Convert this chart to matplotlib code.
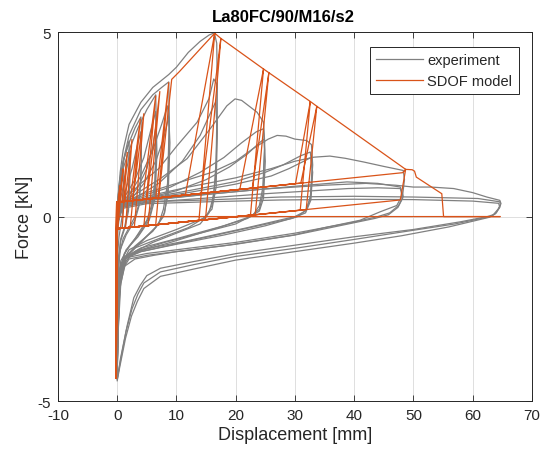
import matplotlib
matplotlib.use("Agg")
import matplotlib.pyplot as plt
import numpy as np

plt.rcParams['font.family'] = ['Liberation Sans', 'DejaVu Sans']
plt.rcParams['axes.unicode_minus'] = False

TITLE = "La80FC/90/M16/s2"
XLABEL = "Displacement [mm]"
YLABEL = "Force [kN]"
LEGEND_LABELS = ["experiment", "SDOF model"]
XTICKS = [-10, 0, 10, 20, 30, 40, 50, 60, 70]
YTICKS = [-5, 0, 5]

# ---------------- experiment: cycles (displacement mm, force kN) ----------------
exp_c01_d = [0, 0.1, 0.25, 0.5, 0.5, 0.35, 0.15, 0.02, 0]
exp_c01_f = [0, 0.4, 0.7, 0.9, 0.4, 0.0, -0.3, -0.7, -1.0]
exp_c02_d = [0, 0.15, 0.4, 0.7, 1.0, 1.05, 0.9, 0.6, 0.3, 0.08, 0]
exp_c02_f = [-0.3, 0.4, 0.9, 1.2, 1.4, 0.8, 0.1, -0.25, -0.55, -1.0, -1.5]
exp_c03_d = [0, 0.2, 0.6, 1.2, 2.0, 2.05, 1.8, 1.3, 0.6, 0.15, 0]
exp_c03_f = [-0.4, 0.4, 1.0, 1.6, 2.05, 1.1, 0.2, -0.25, -0.6, -1.2, -1.9]
exp_c04_d = [0, 0.3, 1.0, 1.8, 2.1, 2.15, 1.9, 1.3, 0.6, 0.15, 0]
exp_c04_f = [-0.3, 0.3, 0.8, 1.45, 1.75, 1.0, 0.15, -0.3, -0.65, -1.3, -2.0]
exp_c05_d = [0, 0.1, 0.4, 1.0, 2.0, 3.0, 4.0, 4.1, 4.0, 3.6, 3.0, 2.0, 1.0, 0.4, 0.1, 0]
exp_c05_f = [-0.3, 0.5, 1.0, 1.5, 2.0, 2.4, 2.7, 2.2, 1.0, 0.3, 0.0, -0.3, -0.6, -1.0, -1.8, -2.4]
exp_c06_d = [0, 0.3, 1.2, 2.5, 3.5, 4.0, 4.1, 3.7, 3.0, 1.5, 0.5, 0.1, 0]
exp_c06_f = [-0.2, 0.2, 0.6, 1.3, 2.0, 2.3, 1.5, 0.3, -0.1, -0.5, -0.9, -1.6, -2.2]
exp_c07_d = [0, 0.2, 0.8, 2.0, 3.5, 5.0, 6.5, 6.6, 6.4, 5.8, 5.0, 3.0, 1.2, 0.3, 0.05, 0]
exp_c07_f = [-0.2, 0.6, 1.2, 1.8, 2.4, 2.9, 3.3, 2.5, 1.0, 0.3, -0.1, -0.6, -1.0, -1.6, -2.3, -2.8]
exp_c08_d = [0, 0.4, 1.5, 3.0, 4.5, 5.6, 6.5, 6.6, 6.3, 5.5, 4.0, 2.0, 0.6, 0.1, 0]
exp_c08_f = [-0.2, 0.3, 0.6, 1.0, 1.6, 2.3, 2.85, 2.0, 0.6, 0.0, -0.4, -0.8, -1.2, -2.0, -2.7]
exp_c09_d = [0, 0.5, 2.0, 3.5, 5.0, 6.0, 6.6, 6.7, 6.4, 5.4, 3.5, 1.5, 0.4, 0.1, 0]
exp_c09_f = [-0.2, 0.25, 0.5, 0.8, 1.3, 1.9, 2.5, 1.7, 0.5, -0.1, -0.55, -0.9, -1.4, -2.2, -2.9]
exp_c10_d = [0, 0.3, 1.0, 2.0, 4.0, 6.0, 7.5, 8.7, 8.8, 8.5, 7.8, 7.0, 4.0, 1.5, 0.3, 0.05, 0]
exp_c10_f = [-0.2, 0.8, 1.5, 2.2, 2.9, 3.3, 3.5, 3.65, 2.6, 0.9, 0.2, -0.2, -0.7, -1.1, -1.8, -2.6, -3.1]
exp_c11_d = [0, 0.5, 2.0, 4.0, 6.0, 7.5, 8.5, 8.8, 8.6, 8.0, 6.5, 3.5, 1.2, 0.3, 0]
exp_c11_f = [-0.2, 0.3, 0.6, 1.1, 1.8, 2.5, 3.0, 2.4, 0.8, 0.1, -0.3, -0.75, -1.15, -1.9, -3.0]
exp_c12_d = [0, 0.6, 2.5, 4.5, 6.5, 7.8, 8.7, 8.9, 8.6, 7.8, 6.0, 3.0, 1.0, 0.2, 0]
exp_c12_f = [-0.2, 0.25, 0.5, 0.9, 1.5, 2.1, 2.7, 2.0, 0.6, 0.0, -0.4, -0.8, -1.2, -2.2, -3.1]
exp_c13_d = [0, 0.2, 0.5, 1.0, 2.0, 4.0, 6.0, 8.7, 10.0, 12.0, 14.0, 15.5, 16.4, 16.8, 16.9, 16.7,
             16.3, 15.5, 14.0, 10.0, 6.0, 3.0, 1.5, 0.6, 0.2, 0]
exp_c13_f = [-0.4, 0.5, 1.2, 1.8, 2.5, 3.1, 3.5, 3.85, 4.05, 4.45, 4.75, 4.92, 4.98, 4.7, 3.5, 1.5,
             0.6, 0.1, -0.2, -0.45, -0.7, -0.95, -1.2, -1.8, -3.0, -4.0]
exp_c14_d = [0, 0.5, 2.0, 4.0, 7.0, 10.0, 13.5, 15.5, 16.3, 16.8, 16.9, 16.6, 16.0, 15.0, 12.0,
             7.0, 3.0, 1.2, 0.5, 0.1, 0]
exp_c14_f = [-0.3, 0.3, 0.6, 0.9, 1.3, 1.9, 2.56, 3.2, 3.73, 3.6, 2.5, 1.0, 0.3, 0.0, -0.3,
             -0.6, -0.85, -1.1, -1.6, -2.8, -3.8]
exp_c15_d = [0, 0.6, 3.0, 7.0, 11.0, 14.0, 16.0, 16.6, 16.9, 16.7, 16.0, 14.5, 10.0, 5.0, 2.0,
             0.7, 0.2, 0]
exp_c15_f = [-0.3, 0.25, 0.5, 0.9, 1.5, 2.2, 2.9, 3.1, 2.3, 0.8, 0.2, -0.05, -0.35, -0.65, -0.9,
             -1.3, -2.4, -3.6]
exp_c16_d = [0, 0.5, 3.0, 7.3, 11.8, 15.7, 18.5, 19.9, 21.0, 23.6, 24.7, 24.9, 24.6, 24.0, 23.0,
             20.0, 14.0, 8.0, 4.0, 1.5, 0.5, 0.1, 0]
exp_c16_f = [-0.3, 0.35, 0.6, 1.03, 1.57, 2.38, 3.0, 3.19, 3.15, 2.83, 2.56, 2.0, 0.8, 0.3, 0.05,
             -0.2, -0.45, -0.7, -0.9, -1.1, -1.6, -3.0, -4.2]
exp_c17_d = [0, 0.6, 4.0, 9.0, 14.0, 18.0, 21.0, 23.5, 24.7, 24.9, 24.6, 24.0, 22.5, 18.0, 10.0,
             4.0, 1.3, 0.4, 0.1, 0]
exp_c17_f = [-0.2, 0.3, 0.55, 0.8, 1.2, 1.6, 2.0, 2.3, 2.38, 1.8, 0.6, 0.2, 0.0, -0.25, -0.6,
             -0.85, -1.1, -1.7, -3.0, -4.0]
exp_c18_d = [0, 0.7, 5.0, 10.0, 15.0, 19.0, 22.0, 24.0, 24.8, 25.0, 24.7, 24.0, 22.0, 16.0, 9.0,
             3.5, 1.2, 0.4, 0.1, 0]
exp_c18_f = [-0.2, 0.3, 0.5, 0.7, 1.0, 1.35, 1.7, 2.0, 2.1, 1.5, 0.5, 0.15, -0.05, -0.35, -0.7,
             -0.95, -1.15, -1.8, -3.1, -4.1]
exp_c19_d = [0, 0.6, 4.0, 10.0, 16.0, 20.0, 23.0, 25.5, 27.0, 28.5, 30.0, 32.0, 32.8, 33.0, 32.7,
             32.0, 30.5, 25.0, 18.0, 10.0, 4.0, 1.5, 0.5, 0.1, 0]
exp_c19_f = [-0.2, 0.35, 0.6, 0.9, 1.2, 1.5, 1.85, 2.1, 2.2, 2.18, 2.1, 2.06, 1.95, 1.4, 0.6,
             0.2, 0.0, -0.25, -0.5, -0.75, -0.95, -1.1, -1.7, -3.2, -4.3]
exp_c20_d = [0, 0.7, 5.0, 12.0, 20.0, 25.0, 28.0, 31.0, 32.6, 32.9, 32.6, 31.8, 30.0, 22.0, 12.0,
             4.0, 1.2, 0.4, 0.1, 0]
exp_c20_f = [-0.2, 0.3, 0.5, 0.7, 0.95, 1.2, 1.4, 1.65, 1.75, 1.3, 0.5, 0.15, 0.0, -0.3, -0.65,
             -0.9, -1.1, -1.8, -3.2, -4.2]
exp_c21_d = [0, 0.7, 5.0, 12.0, 20.0, 26.0, 29.0, 31.5, 32.7, 33.0, 32.7, 31.8, 29.5, 21.0, 11.0,
             4.0, 1.2, 0.4, 0.1, 0]
exp_c21_f = [-0.2, 0.3, 0.48, 0.65, 0.88, 1.1, 1.3, 1.5, 1.6, 1.2, 0.45, 0.1, -0.05, -0.35, -0.7,
             -0.95, -1.15, -1.9, -3.3, -4.3]
exp_c22_d = [0, 0.7, 5.0, 12.0, 20.0, 26.0, 30.0, 33.2, 35.9, 38.5, 41.6, 45.0, 48.3, 48.5, 48.2,
             47.2, 44.4, 41.0, 35.0, 29.8, 18.5, 10.0, 6.2, 3.0, 1.2, 0.4, 0.1, 0]
exp_c22_f = [-0.2, 0.35, 0.55, 0.8, 1.05, 1.3, 1.5, 1.61, 1.64, 1.58, 1.48, 1.36, 1.25, 1.0, 0.6,
             0.3, 0.13, -0.1, -0.3, -0.5, -0.78, -0.95, -1.05, -1.15, -1.35, -2.0, -3.4, -4.3]
exp_c23_d = [0, 1.0, 6.0, 15.0, 25.0, 32.0, 38.8, 44.0, 47.8, 48.3, 47.5, 46.0, 44.0, 40.0, 30.0,
             20.0, 10.0, 5.0, 2.0, 0.6, 0.2, 0]
exp_c23_f = [-0.2, 0.3, 0.45, 0.6, 0.75, 0.85, 0.94, 0.9, 0.8, 0.55, 0.3, 0.1, 0.0, -0.15, -0.45,
             -0.7, -0.9, -1.0, -1.1, -1.4, -2.6, -4.0]
exp_c24_d = [0, 1.0, 6.0, 15.0, 25.0, 33.0, 39.0, 44.0, 47.8, 48.2, 47.4, 45.8, 43.5, 39.0, 30.0,
             20.0, 10.0, 5.0, 2.0, 0.6, 0.2, 0]
exp_c24_f = [-0.2, 0.28, 0.4, 0.5, 0.62, 0.7, 0.76, 0.78, 0.76, 0.5, 0.25, 0.05, -0.05, -0.2,
             -0.5, -0.75, -0.95, -1.05, -1.15, -1.5, -2.8, -4.1]
exp_c25_d = [0, 0.8, 5.0, 15.0, 25.0, 35.0, 42.0, 47.0, 50.0, 53.0, 56.8, 60.0, 62.4, 64.6, 64.8,
             64.3, 63.5, 62.5, 58.0, 50.0, 39.9, 29.8, 20.2, 12.9, 7.3, 5.0, 3.9, 2.8, 1.7, 0.56, 0]
exp_c25_f = [-0.2, 0.3, 0.45, 0.6, 0.75, 0.85, 0.9, 0.85, 0.8, 0.8, 0.76, 0.65, 0.53, 0.44, 0.35,
             0.2, 0.05, 0.0, -0.14, -0.35, -0.55, -0.78, -1.0, -1.22, -1.4, -1.6, -1.86, -2.2,
             -2.94, -3.84, -4.42]
exp_c26_d = [0, 0.8, 5.0, 15.0, 27.6, 40.0, 50.0, 60.9, 64.6, 64.7, 64.0, 63.0, 57.0, 48.0, 40.0,
             30.0, 20.0, 13.0, 7.3, 4.5, 3.5, 2.5, 1.5, 0.5, 0]
exp_c26_f = [-0.2, 0.25, 0.4, 0.45, 0.53, 0.55, 0.53, 0.49, 0.4, 0.3, 0.1, 0.0, -0.2, -0.42,
             -0.62, -0.86, -1.08, -1.3, -1.5, -1.8, -2.1, -2.5, -3.1, -3.95, -4.4]
exp_c27_d = [0, 0.8, 5.0, 15.0, 27.6, 40.0, 50.0, 60.0, 64.4, 64.6, 63.8, 62.8, 56.0, 48.0, 40.0,
             30.0, 20.0, 13.0, 7.3, 4.5, 3.4, 2.4, 1.4, 0.4, 0]
exp_c27_f = [-0.2, 0.22, 0.35, 0.4, 0.45, 0.47, 0.46, 0.42, 0.36, 0.25, 0.07, -0.02, -0.28, -0.52,
             -0.72, -0.95, -1.18, -1.42, -1.62, -1.95, -2.3, -2.7, -3.3, -4.1, -4.45]

exp_cycles = [
    (exp_c01_d, exp_c01_f), (exp_c02_d, exp_c02_f), (exp_c03_d, exp_c03_f),
    (exp_c04_d, exp_c04_f), (exp_c05_d, exp_c05_f), (exp_c06_d, exp_c06_f),
    (exp_c07_d, exp_c07_f), (exp_c08_d, exp_c08_f), (exp_c09_d, exp_c09_f),
    (exp_c10_d, exp_c10_f), (exp_c11_d, exp_c11_f), (exp_c12_d, exp_c12_f),
    (exp_c13_d, exp_c13_f), (exp_c14_d, exp_c14_f), (exp_c15_d, exp_c15_f),
    (exp_c16_d, exp_c16_f), (exp_c17_d, exp_c17_f), (exp_c18_d, exp_c18_f),
    (exp_c19_d, exp_c19_f), (exp_c20_d, exp_c20_f), (exp_c21_d, exp_c21_f),
    (exp_c22_d, exp_c22_f), (exp_c23_d, exp_c23_f), (exp_c24_d, exp_c24_f),
    (exp_c25_d, exp_c25_f), (exp_c26_d, exp_c26_f), (exp_c27_d, exp_c27_f),
]

# ---------------- SDOF model path (displacement mm, force kN) ----------------
model_d = [
    0, 0.25, 0.5, -0.05, -0.15, -0.1,
    0.3, 1.0, 0.1, -0.1, -0.15, -0.1,
    0.8, 1.7, 0.84, -0.1, -0.15, -0.1,
    1.3, 2.5, 1.4, -0.1, -0.15, -0.1,
    2.2, 3.9, 2.2, -0.1, -0.15, -0.1,
    2.6, 4.5, 2.9, -0.1, -0.15, -0.1,
    4.3, 6.5, 4.5, -0.1, -0.15, -0.1,
    5.0, 7.2, 5.2, -0.1, -0.15, -0.1,
    6.5, 8.7, 6.5, -0.1, -0.15, -0.1,
    7.0, 9.2, 10.5, 12.5, 14.5, 16.46, 13.8, -0.1, -0.15, -0.1,
    11.5, 16.46, 17.5, 14.9, -0.1, -0.15, -0.1,
    14.2, 17.5, 24.7, 22.5, -0.1, -0.15, -0.1,
    20.7, 24.7, 25.6, 23.3, -0.1, -0.15, -0.1,
    22.8, 25.6, 32.6, 30.9, -0.1, -0.15, -0.1,
    30.1, 32.6, 33.7, 31.9, -0.1, -0.15, -0.1,
    31.0, 33.7, 48.7, 47.8, -0.1, -0.15, -0.1,
    48.2, 48.7, 49.8, 50.2, 50.5, 54.8, 55.1, 64.7, 0,
]
model_f = [
    0, 0.6, 0.85, -0.33, -1.0, 0.39,
    0.40, 1.30, -0.33, -0.33, -1.6, 0.39,
    0.40, 1.75, -0.32, -0.33, -2.2, 0.39,
    0.41, 2.10, -0.31, -0.33, -2.8, 0.39,
    0.43, 2.65, -0.29, -0.33, -3.2, 0.39,
    0.43, 2.80, -0.28, -0.33, -3.5, 0.39,
    0.46, 3.28, -0.26, -0.33, -3.8, 0.39,
    0.47, 3.40, -0.25, -0.33, -4.0, 0.39,
    0.50, 3.64, -0.22, -0.33, -4.2, 0.39,
    0.51, 3.72, 3.93, 4.28, 4.63, 4.97, -0.10, -0.33, -4.4, 0.39,
    0.58, 4.97, 4.83, -0.09, -0.33, -4.4, 0.39,
    0.63, 4.83, 4.00, 0.04, -0.33, -4.4, 0.39,
    0.74, 4.00, 3.90, 0.05, -0.33, -4.4, 0.39,
    0.77, 3.90, 3.12, 0.17, -0.33, -4.4, 0.39,
    0.89, 3.12, 2.99, 0.19, -0.33, -4.4, 0.39,
    0.91, 2.99, 1.28, 0.45, -0.33, -4.4, 0.39,
    1.19, 1.28, 1.27, 1.23, 1.07, 0.62, 0.0, 0.0, 0.0,
]

GRAY = "#808080"
ORANGE = "#D95319"
TXT = "#262626"

fig = plt.figure(figsize=(5.44, 4.60), dpi=100)
ax = fig.add_axes([0.1066, 0.126, 0.871, 0.802])

first = True
for d, f in exp_cycles:
    ax.plot(d, f, color=GRAY, lw=0.9, label=LEGEND_LABELS[0] if first else None,
            solid_joinstyle='round')
    first = False
ax.plot(model_d, model_f, color=ORANGE, lw=0.9, label=LEGEND_LABELS[1], solid_joinstyle='miter')

ax.set_xlim(-10, 70)
ax.set_ylim(-5, 5)
ax.set_xticks(XTICKS)
ax.set_yticks(YTICKS)
ax.grid(True, color="#dfdfdf", lw=0.7)
ax.set_axisbelow(True)
ax.tick_params(direction='in', length=4, width=0.6, colors=TXT, labelsize=11,
               top=True, right=True, pad=5)
for s in ax.spines.values():
    s.set_color(TXT)
    s.set_linewidth(0.7)

ax.set_xlabel(XLABEL, fontsize=13, color=TXT, labelpad=3)
ax.set_ylabel(YLABEL, fontsize=13, color=TXT, labelpad=3)
fig.text(0.52, 0.962, TITLE, fontsize=12, fontweight='bold', color='black',
         ha='center', va='center')

leg = ax.legend(loc='upper right', bbox_to_anchor=(0.973, 0.961), fontsize=10.5,
                frameon=True, fancybox=False, edgecolor=TXT, framealpha=1,
                handlelength=3.2, handletextpad=0.3, borderpad=0.45,
                labelspacing=0.45, borderaxespad=0)
leg.get_frame().set_linewidth(0.7)
for t in leg.get_texts():
    t.set_color(TXT)

fig.savefig("out.png", dpi=100)
